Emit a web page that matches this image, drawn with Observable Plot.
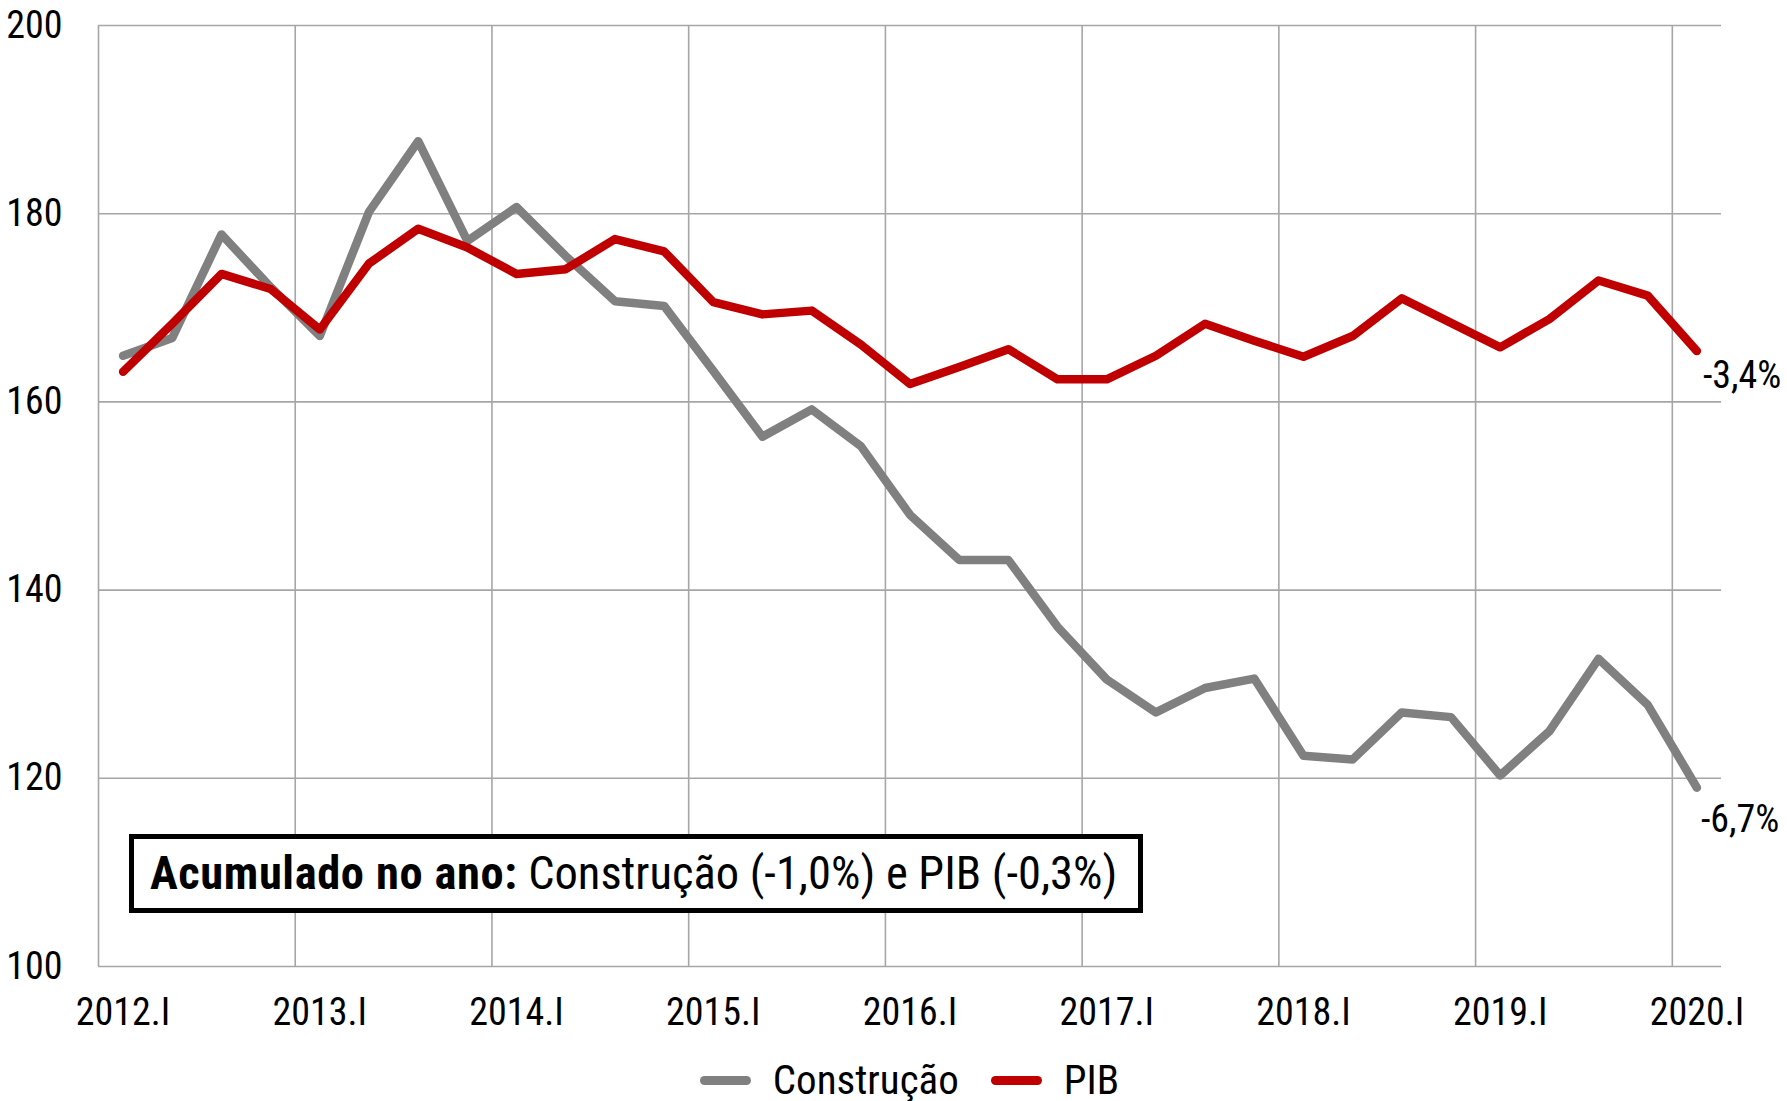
<!DOCTYPE html>
<html>
<head>
<meta charset="utf-8">
<script src="https://cdn.jsdelivr.net/npm/d3@7"></script>
<script src="https://cdn.jsdelivr.net/npm/@observablehq/plot@0.6"></script>
<style>
  html, body { margin: 0; padding: 0; background: #fff; }
  #wrap { position: relative; width: 1787px; height: 1101px; font-family: "Liberation Sans Narrow", "Arial Narrow", "Roboto Condensed", sans-serif; }
  #note { position: absolute; left: 129px; top: 834px; width: 988px; height: 69px; border: 5px solid #000; background: #fff;
          font-size: 46.5px; line-height: 69px; padding-left: 16px; color: #000; white-space: nowrap; box-sizing: content-box; overflow: hidden; }
  #note b { letter-spacing: 0.6px; }
  #legend { display: flex; justify-content: center; align-items: center; padding-left: 98px; padding-right: 66px;
            height: 50px; margin-top: 10px; font-size: 41px; color: #000; }
  .sw { display: inline-block; width: 51px; height: 9px; border-radius: 5px; margin-right: 22px; }
  .item { display: flex; align-items: center; margin: 0 16px; }
</style>
</head>
<body>
<div id="wrap">
  <div id="chart"></div>
  <div id="legend"></div>
  <div id="note"></div>
</div>
<script>
// Categories (quarters)
const quarters = [
  "2012.I","2012.II","2012.III","2012.IV",
  "2013.I","2013.II","2013.III","2013.IV",
  "2014.I","2014.II","2014.III","2014.IV",
  "2015.I","2015.II","2015.III","2015.IV",
  "2016.I","2016.II","2016.III","2016.IV",
  "2017.I","2017.II","2017.III","2017.IV",
  "2018.I","2018.II","2018.III","2018.IV",
  "2019.I","2019.II","2019.III","2019.IV",
  "2020.I"
];
// Series values (index)
const construcao = [164.9, 166.8, 177.8, 172.2, 167.0, 180.2, 187.7, 177.1, 180.7, 175.5, 170.7, 170.2,
                    163.3, 156.3, 159.2, 155.3, 148.0, 143.2, 143.2, 136.1, 130.5, 127.0, 129.6, 130.6,
                    122.4, 122.0, 127.0, 126.5, 120.3, 125.0, 132.7, 127.8, 119.0];
const pib = [163.2, 168.3, 173.6, 172.0, 167.7, 174.7, 178.4, 176.4, 173.6, 174.1, 177.3, 176.0,
             170.6, 169.3, 169.7, 166.1, 161.9, 163.7, 165.6, 162.4, 162.4, 164.9, 168.3, 166.5,
             164.8, 167.0, 171.0, 168.4, 165.8, 168.8, 172.9, 171.3, 165.4];
// Tick labels
const xTickLabels = ["2012.I","2013.I","2014.I","2015.I","2016.I","2017.I","2018.I","2019.I","2020.I"];
const yTicks = [100, 120, 140, 160, 180, 200];
// Series names, colors and end labels
const seriesNames = ["Construção", "PIB"];
const seriesColors = ["#808080", "#c00000"];
const endLabels = ["-6,7%", "-3,4%"];
const noteBold = "Acumulado no ano:";
const noteText = " Construção (-1,0%) e PIB (-0,3%)";

const rowsC = construcao.map((v, i) => ({i, v, q: quarters[i]}));
const rowsP = pib.map((v, i) => ({i, v, q: quarters[i]}));
const tickIdx = xTickLabels.map(l => quarters.indexOf(l));
const gridIdx = tickIdx.map(i => i - 0.5);
const font = '"Liberation Sans Narrow", "Arial Narrow", "Roboto Condensed", sans-serif';

const chart = Plot.plot({
  width: 1787,
  height: 1045,
  marginLeft: 98,
  marginRight: 66,
  marginTop: 25,
  marginBottom: 79,
  style: {fontFamily: font, fontSize: "38px", color: "#000", background: "#fff"},
  x: {type: "linear", domain: [-0.5, quarters.length - 0.5]},
  y: {domain: [100, 200]},
  marks: [
    Plot.ruleY(yTicks, {stroke: "#a6a6a6", strokeWidth: 1.6}),
    Plot.ruleX(gridIdx, {stroke: "#a6a6a6", strokeWidth: 1.6}),
    Plot.axisY({ticks: yTicks, tickSize: 0, tickPadding: 36, fontSize: 38, label: null, fill: "#000"}),
    Plot.axisX({ticks: tickIdx, tickFormat: i => quarters[i], tickSize: 0, tickPadding: 32, fontSize: 38, label: null, fill: "#000"}),
    Plot.line(rowsC, {x: "i", y: "v", stroke: seriesColors[0], strokeWidth: 8.5, strokeLinejoin: "round", strokeLinecap: "round"}),
    Plot.line(rowsP, {x: "i", y: "v", stroke: seriesColors[1], strokeWidth: 8.5, strokeLinejoin: "round", strokeLinecap: "round"}),
    Plot.text([rowsC[rowsC.length - 1]], {x: "i", y: "v", text: () => endLabels[0], textAnchor: "start", dx: 4, dy: 32, fontSize: 38, fill: "#000"}),
    Plot.text([rowsP[rowsP.length - 1]], {x: "i", y: "v", text: () => endLabels[1], textAnchor: "start", dx: 6, dy: 25, fontSize: 38, fill: "#000"})
  ]
});
document.getElementById("chart").appendChild(chart);

const legend = document.getElementById("legend");
seriesNames.forEach((name, k) => {
  const it = document.createElement("span");
  it.className = "item";
  const sw = document.createElement("span");
  sw.className = "sw";
  sw.style.background = seriesColors[k];
  it.appendChild(sw);
  it.appendChild(document.createTextNode(name));
  legend.appendChild(it);
});

const note = document.getElementById("note");
const b = document.createElement("b");
b.textContent = noteBold;
note.appendChild(b);
note.appendChild(document.createTextNode(noteText));
</script>
</body>
</html>
